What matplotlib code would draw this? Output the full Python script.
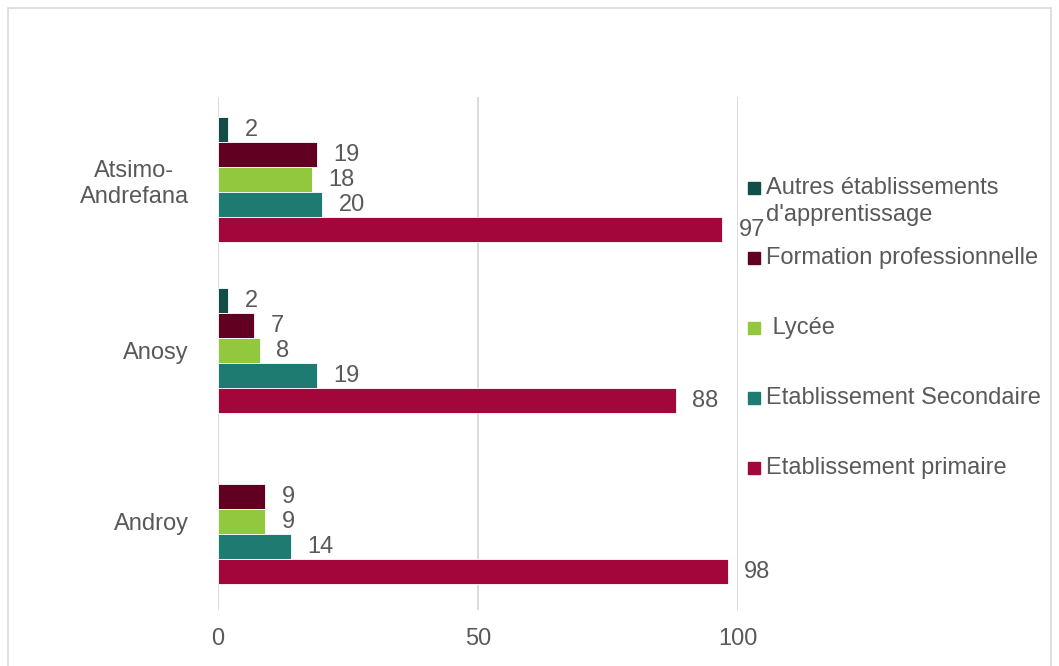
import numpy as np
import matplotlib
matplotlib.use("Agg")
import matplotlib.pyplot as plt
from matplotlib.patches import Rectangle

plt.rcParams['font.family'] = ['Liberation Sans', 'DejaVu Sans']

# regions, drawn bottom to top
regions = ["Androy", "Anosy", "Atsimo-\nAndrefana"]

# series in legend order (top bar of each group first)
series_names = ["Autres établissements\nd'apprentissage",
                "Formation professionnelle",
                " Lycée",
                "Etablissement Secondaire",
                "Etablissement primaire"]
autres = [np.nan, 2, 2]
formation = [9, 7, 19]
lycee = [9, 8, 18]
secondaire = [14, 19, 20]
primaire = [98, 88, 97]
series_values = [autres, formation, lycee, secondaire, primaire]
colors = ["#124D47", "#620022", "#92C83E", "#1E7B72", "#A3063B"]

text_color = "#595959"
grid_color = "#D9D9D9"
fs = 17

fig = plt.figure(figsize=(10.59, 6.66), dpi=100)
ax = fig.add_axes([0.2059, 0.0841, 0.491, 0.7703])

y = np.arange(len(regions))
h = 0.146
for i, (vals, col) in enumerate(zip(series_values, colors)):
    offset = (2 - i) * h
    ax.barh(y + offset, vals, height=h, color=col, edgecolor="white", linewidth=0.6, zorder=3)
    for yy, v in zip(y, vals):
        if np.isnan(v):
            continue
        ax.text(v + 3.2, yy + offset, f"{v:g}", va="center", ha="left",
                fontsize=fs, color=text_color, zorder=4)

ax.set_xlim(0, 100)
ax.set_ylim(-0.515, 2.485)
ax.set_xticks([0, 50, 100])
ax.set_yticks(y)
ax.set_yticklabels(regions, multialignment="center")
ax.tick_params(axis="both", length=0, labelsize=fs, labelcolor=text_color)
ax.tick_params(axis="y", pad=21)
ax.tick_params(axis="x", pad=13)
ax.grid(axis="x", color=grid_color, linewidth=1.3, zorder=0)
for s in ax.spines.values():
    s.set_visible(False)

# legend, built by hand so the square sits on the first line of each label
W, H = 1059, 666
leg_y = [188, 258, 328, 398, 468]
for name, col, ly in zip(series_names, colors, leg_y):
    fig.patches.append(Rectangle((748 / W, 1 - (ly + 6) / H), 12 / W, 12 / H,
                                 transform=fig.transFigure, color=col))
    fig.text(766 / W, 1 - (ly - 11) / H, name, fontsize=fs, color=text_color,
             va="top", ha="left", linespacing=1.3,
             transform=fig.transFigure)

# chart frame
fig.patches.append(Rectangle((8 / W, -0.01), 1043 / W, 1 - 8 / H + 0.01,
                             transform=fig.transFigure, fill=False,
                             edgecolor=grid_color, linewidth=1.2))

fig.savefig("out.png", dpi=100)
